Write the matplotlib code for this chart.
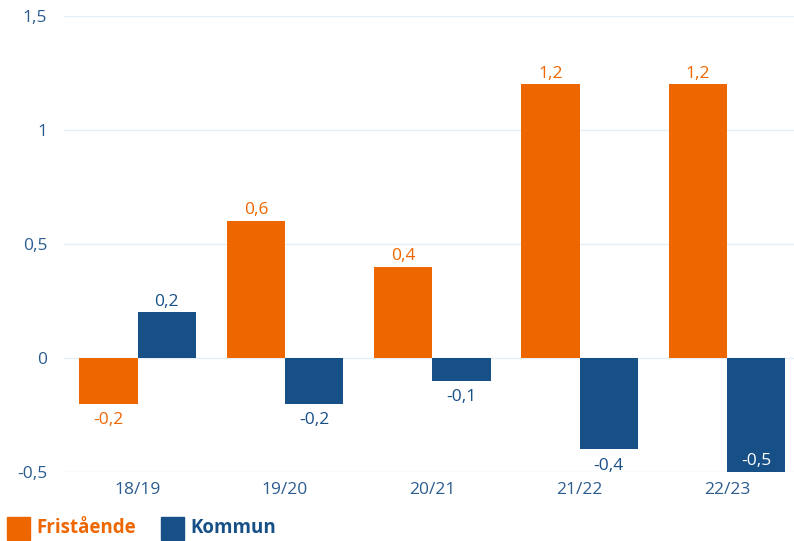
import numpy as np
import matplotlib.pyplot as plt
from matplotlib.patches import Rectangle

plt.rcParams['font.family'] = ['Open Sans', 'DejaVu Sans']

# Data
categories = ['18/19', '19/20', '20/21', '21/22', '22/23']
fristaende = [-0.2, 0.6, 0.4, 1.2, 1.2]
kommun = [0.2, -0.2, -0.1, -0.4, -0.5]
y_ticks = [-0.5, 0, 0.5, 1, 1.5]

orange = '#EE6600'
blue = '#174F87'
txt = '#2B5C8F'

fig = plt.figure(figsize=(7.94, 5.41), dpi=100)
ax = fig.add_axes([64 / 794, 69 / 541, 1 - 64 / 794, 456 / 541])

x = np.arange(len(categories))
w = 0.395
b1 = ax.bar(x - w / 2, fristaende, w, color=orange, zorder=2)
b2 = ax.bar(x + w / 2, kommun, w, color=blue, zorder=2)

def fmt(v):
    return ('%g' % v).replace('.', ',')

fs = 12.5

for bar, v in zip(b1, fristaende):
    cx = bar.get_x() + bar.get_width() / 2
    if v >= 0:
        ax.annotate(fmt(v), (cx, v), xytext=(0, 2), textcoords='offset points',
                    ha='center', va='bottom', color=orange, fontsize=fs)
    else:
        ax.annotate(fmt(v), (cx, v), xytext=(0, -6), textcoords='offset points',
                    ha='center', va='top', color=orange, fontsize=fs)

for bar, v in zip(b2, kommun):
    cx = bar.get_x() + bar.get_width() / 2
    if v >= 0:
        ax.annotate(fmt(v), (cx, v), xytext=(0, 2), textcoords='offset points',
                    ha='center', va='bottom', color=blue, fontsize=fs)
    elif v <= -0.5:
        ax.annotate(fmt(v), (cx, v), xytext=(0, 2), textcoords='offset points',
                    ha='center', va='bottom', color='white', fontsize=fs)
    else:
        ax.annotate(fmt(v), (cx, v), xytext=(0, -6), textcoords='offset points',
                    ha='center', va='top', color=blue, fontsize=fs)

ax.set_xlim(-0.5, 4.455)
ax.set_ylim(-0.5, 1.5)
ax.set_yticks(y_ticks)
ax.set_yticklabels([fmt(t) for t in y_ticks])
ax.set_xticks(x)
ax.set_xticklabels(categories)
ax.yaxis.grid(True, color='#E6EEF7', linewidth=1, zorder=0)
ax.tick_params(axis='both', length=0, labelsize=fs, labelcolor=txt)
ax.tick_params(axis='y', pad=12)
ax.tick_params(axis='x', pad=7)
for s in ax.spines.values():
    s.set_visible(False)

# Legend
for xs, label, c in [(7, 'Fristående', orange), (161, 'Kommun', blue)]:
    fig.patches.append(Rectangle((xs / 794, 1 / 541), 23 / 794, 23 / 541,
                                 transform=fig.transFigure, color=c))
    fig.text((xs + 29) / 794, 13 / 541, label, color=c, fontsize=13.5,
             fontweight='bold', va='center', ha='left')

fig.savefig('out.png', dpi=100)
